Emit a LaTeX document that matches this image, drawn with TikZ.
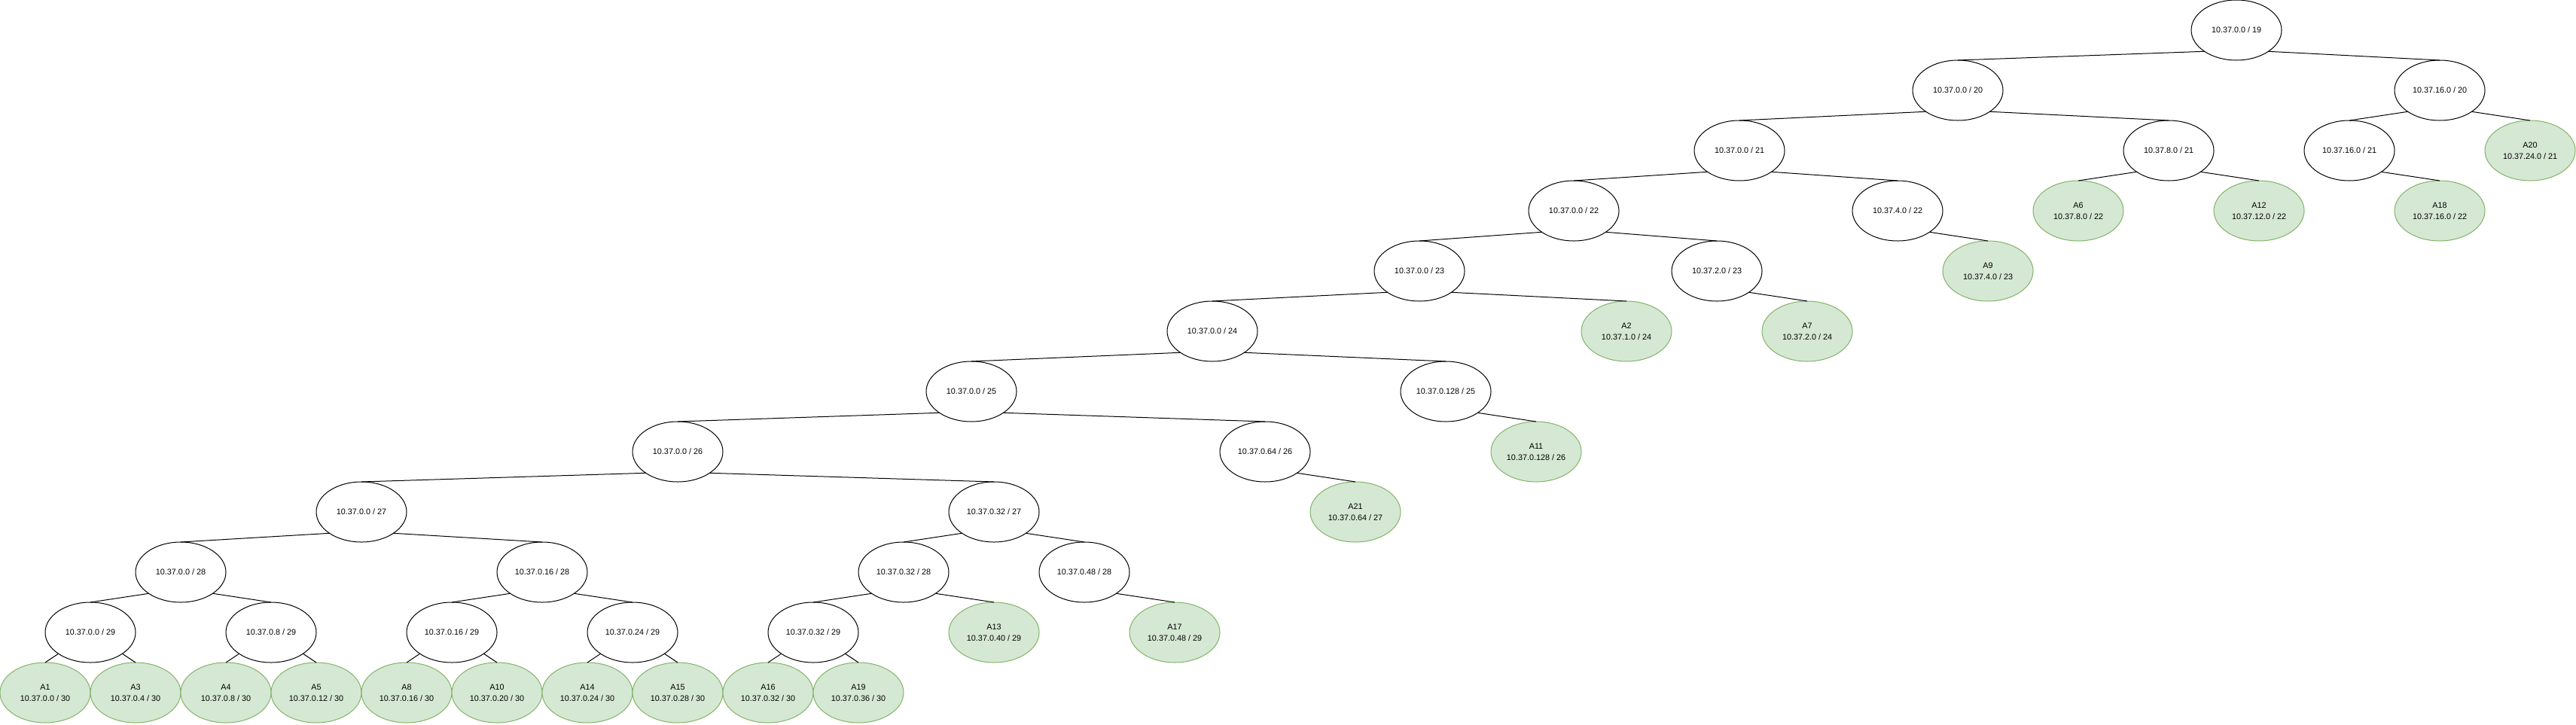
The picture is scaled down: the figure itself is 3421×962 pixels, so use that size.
\documentclass[tikz,border=0pt]{standalone}
\usepackage{fontspec}
\setmainfont{Liberation Sans}
\usetikzlibrary{shapes.geometric}
\definecolor{leaffill}{HTML}{D5E8D4}
\definecolor{leafline}{HTML}{82B366}
\begin{document}
\begin{tikzpicture}[x=1pt,y=-1pt,
  net/.style={ellipse,draw=black,fill=white,line width=1pt,minimum width=120pt,minimum height=80pt,inner sep=0pt,outer sep=0pt,align=center,font=\fontsize{10.8}{15}\selectfont},
  leaf/.style={net,draw=leafline,fill=leaffill},
  link/.style={draw=black,line width=1pt}]
\useasboundingbox (0,0) rectangle (3421,962);
% level 0
\node[net] (n19) at (2970,40) {10.37.0.0 / 19};
% level 1
\node[net] (a20) at (2600,120) {10.37.0.0 / 20};
\node[net] (b20) at (3240,120) {10.37.16.0 / 20};
% level 2
\node[net] (a21) at (2310,200) {10.37.0.0 / 21};
\node[net] (b21) at (2880,200) {10.37.8.0 / 21};
\node[net] (c21) at (3120,200) {10.37.16.0 / 21};
\node[leaf] (A20) at (3360,200) {A20\\10.37.24.0 / 21};
% level 3
\node[net] (a22) at (2090,280) {10.37.0.0 / 22};
\node[net] (b22) at (2520,280) {10.37.4.0 / 22};
\node[leaf] (A6) at (2760,280) {A6\\10.37.8.0 / 22};
\node[leaf] (A12) at (3000,280) {A12\\10.37.12.0 / 22};
\node[leaf] (A18) at (3240,280) {A18\\10.37.16.0 / 22};
% level 4
\node[net] (a23) at (1885,360) {10.37.0.0 / 23};
\node[net] (b23) at (2280,360) {10.37.2.0 / 23};
\node[leaf] (A9) at (2640,360) {A9\\10.37.4.0 / 23};
% level 5
\node[net] (a24) at (1610,440) {10.37.0.0 / 24};
\node[leaf] (A2) at (2160,440) {A2\\10.37.1.0 / 24};
\node[leaf] (A7) at (2400,440) {A7\\10.37.2.0 / 24};
% level 6
\node[net] (a25) at (1290,520) {10.37.0.0 / 25};
\node[net] (b25) at (1920,520) {10.37.0.128 / 25};
% level 7
\node[net] (a26) at (900,600) {10.37.0.0 / 26};
\node[net] (b26) at (1680,600) {10.37.0.64 / 26};
\node[leaf] (A11) at (2040,600) {A11\\10.37.0.128 / 26};
% level 8
\node[net] (a27) at (480,680) {10.37.0.0 / 27};
\node[net] (b27) at (1320,680) {10.37.0.32 / 27};
\node[leaf] (A21) at (1800,680) {A21\\10.37.0.64 / 27};
% level 9
\node[net] (a28) at (240,760) {10.37.0.0 / 28};
\node[net] (b28) at (720,760) {10.37.0.16 / 28};
\node[net] (c28) at (1200,760) {10.37.0.32 / 28};
\node[net] (d28) at (1440,760) {10.37.0.48 / 28};
% level 10
\node[net] (a29) at (120,840) {10.37.0.0 / 29};
\node[net] (b29) at (360,840) {10.37.0.8 / 29};
\node[net] (c29) at (600,840) {10.37.0.16 / 29};
\node[net] (d29) at (840,840) {10.37.0.24 / 29};
\node[net] (e29) at (1080,840) {10.37.0.32 / 29};
\node[leaf] (A13) at (1320,840) {A13\\10.37.0.40 / 29};
\node[leaf] (A17) at (1560,840) {A17\\10.37.0.48 / 29};
% level 11
\node[leaf] (A1) at (60,920) {A1\\10.37.0.0 / 30};
\node[leaf] (A3) at (180,920) {A3\\10.37.0.4 / 30};
\node[leaf] (A4) at (300,920) {A4\\10.37.0.8 / 30};
\node[leaf] (A5) at (420,920) {A5\\10.37.0.12 / 30};
\node[leaf] (A8) at (540,920) {A8\\10.37.0.16 / 30};
\node[leaf] (A10) at (660,920) {A10\\10.37.0.20 / 30};
\node[leaf] (A14) at (780,920) {A14\\10.37.0.24 / 30};
\node[leaf] (A15) at (900,920) {A15\\10.37.0.28 / 30};
\node[leaf] (A16) at (1020,920) {A16\\10.37.0.32 / 30};
\node[leaf] (A19) at (1140,920) {A19\\10.37.0.36 / 30};
% left children
\foreach \p/\c in {n19/a20,a20/a21,b20/c21,a21/a22,b21/A6,a22/a23,a23/a24,a24/a25,a25/a26,a26/a27,b27/c28,a27/a28,b28/c29,a28/a29,c28/e29,a29/A1,b29/A4,c29/A8,d29/A14,e29/A16}
  \draw[link] (\p.south west) -- (\c.north);
% right children
\foreach \p/\c in {n19/b20,a20/b21,b20/A20,a21/b22,b21/A12,c21/A18,a22/b23,b22/A9,a23/A2,b23/A7,a24/b25,b25/A11,a25/b26,b26/A21,a26/b27,a27/b28,b27/d28,a28/b29,b28/d29,c28/A13,d28/A17,a29/A3,b29/A5,c29/A10,d29/A15,e29/A19}
  \draw[link] (\p.south east) -- (\c.north);
\end{tikzpicture}
\end{document}
